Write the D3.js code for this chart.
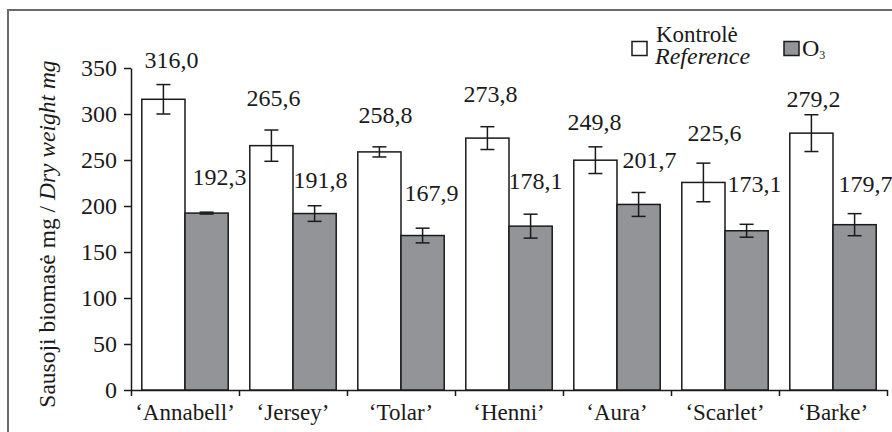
<!DOCTYPE html>
<html>
<head>
<meta charset="utf-8">
<script src="https://cdn.jsdelivr.net/npm/d3@7"></script>
<style>
  body { margin: 0; background: #fff; }
</style>
</head>
<body>
<svg id="chart" width="892" height="432"></svg>
<script>
// cultivars and dry weight (mg)
let categories = ["‘Annabell’", "‘Jersey’", "‘Tolar’", "‘Henni’", "‘Aura’", "‘Scarlet’", "‘Barke’"];
let control = [316.0, 265.6, 258.8, 273.8, 249.8, 225.6, 279.2];
let ozone = [192.3, 191.8, 167.9, 178.1, 201.7, 173.1, 179.7];
let control_err = [16, 17, 5.5, 12.4, 14.5, 21, 20];
let ozone_err = [1, 8.5, 8, 13, 13, 7, 12];
let y_ticks = [0, 50, 100, 150, 200, 250, 300, 350];

// hand placed value labels (px nudges, like the original)
let control_label_dx = [8, 2, 6, 3, -1, 11, 2];
let control_label_gap = [17, 24, 24, 25, 17, 22, 8];
let ozone_label_dx = [13, 6, 9, 5, 11, 8, 11];
let ozone_label_gap = [27, 18, 27, 25, 24, 32, 22];

let serif = "'Liberation Serif', 'Times New Roman', serif";
let ink = '#1a1a1a';
let svg = d3.select('#chart');
let left = 131, right = 887, top_y = 68, bottom = 390;

// frame
svg.append('path').attr('d', 'M8,440 L8,10 L900,10')
  .attr('fill', 'none').attr('stroke', '#6a6a6a').attr('stroke-width', 2);

let x = d3.scaleBand().domain(categories).range([left, right]);
let x_inner = d3.scaleBand().domain(['control', 'o3']).range([0, x.bandwidth()]).paddingOuter(0.25);
let y = d3.scaleLinear().domain([0, 350]).range([bottom, top_y]);

let locale = d3.formatLocale({decimal: ',', thousands: ' ', grouping: [3], currency: ['', '']});
let fmt = locale.format('.1f');

// y axis
let y_axis = svg.append('g').attr('transform', 'translate(' + left + ',0)')
  .call(d3.axisLeft(y).tickValues(y_ticks).tickSize(7).tickPadding(7).tickSizeOuter(0));
y_axis.selectAll('text').style('font-family', serif).style('font-size', '24px').attr('fill', ink);
y_axis.selectAll('line, path').attr('stroke', ink).attr('stroke-width', 1.5);

// x axis, ticks between the groups
let x_lin = d3.scaleLinear().domain([0, categories.length]).range([left, right]);
let x_axis = svg.append('g').attr('transform', 'translate(0,' + bottom + ')')
  .call(d3.axisBottom(x_lin).ticks(categories.length).tickSize(6).tickSizeOuter(0).tickFormat(''));
x_axis.selectAll('line, path').attr('stroke', ink).attr('stroke-width', 1.5);

svg.append('g').selectAll('text').data(categories).enter().append('text')
  .attr('x', d => x(d) + x.bandwidth() / 2)
  .attr('y', 420)
  .attr('text-anchor', 'middle')
  .style('font-family', serif).style('font-size', '23px').attr('fill', ink)
  .text(d => d);

// bars
let series = [
  {key: 'control', values: control, err: control_err, fill: '#ffffff', dx: control_label_dx, gap: control_label_gap},
  {key: 'o3', values: ozone, err: ozone_err, fill: '#939497', dx: ozone_label_dx, gap: ozone_label_gap}
];

series.forEach(function(s){
  let g = svg.append('g').attr('class', 'series_' + s.key);
  let w = x_inner.bandwidth();
  g.selectAll('rect').data(s.values).enter().append('rect')
    .attr('x', (d, i) => x(categories[i]) + x_inner(s.key))
    .attr('y', d => y(d))
    .attr('width', w)
    .attr('height', d => y(0) - y(d))
    .attr('fill', s.fill).attr('stroke', ink).attr('stroke-width', 1.5);

  // error bars
  let eg = g.selectAll('.err').data(s.values).enter().append('g').attr('class', 'err')
    .attr('transform', (d, i) => 'translate(' + (x(categories[i]) + x_inner(s.key) + w / 2) + ',0)');
  eg.append('line').attr('x1', 0).attr('x2', 0)
    .attr('y1', (d, i) => y(d + s.err[i])).attr('y2', (d, i) => y(d - s.err[i]));
  eg.append('line').attr('x1', -7).attr('x2', 7)
    .attr('y1', (d, i) => y(d + s.err[i])).attr('y2', (d, i) => y(d + s.err[i]));
  eg.append('line').attr('x1', -7).attr('x2', 7)
    .attr('y1', (d, i) => y(d - s.err[i])).attr('y2', (d, i) => y(d - s.err[i]));
  eg.selectAll('line').attr('stroke', ink).attr('stroke-width', 1.5);

  g.selectAll('.val').data(s.values).enter().append('text').attr('class', 'val')
    .attr('x', (d, i) => x(categories[i]) + x_inner(s.key) + w / 2 + s.dx[i])
    .attr('y', (d, i) => y(d + s.err[i]) - s.gap[i])
    .attr('text-anchor', 'middle')
    .style('font-family', serif).style('font-size', '24px').attr('fill', ink)
    .text(d => fmt(d));
});

// y title
let title = svg.append('text')
  .attr('transform', 'translate(55,234) rotate(-90)')
  .attr('text-anchor', 'middle')
  .style('font-family', serif).style('font-size', '23.5px').attr('fill', ink);
title.append('tspan').text('Sausoji biomasė mg / ');
title.append('tspan').style('font-style', 'italic').text('Dry weight mg');

// legend
let legend = svg.append('g');
legend.append('rect').attr('x', 632).attr('y', 41.5).attr('width', 15).attr('height', 14)
  .attr('fill', '#fff').attr('stroke', ink).attr('stroke-width', 1.5);
legend.append('text').attr('x', 656).attr('y', 42)
  .style('font-family', serif).style('font-size', '23px').attr('fill', ink).text('Kontrolė');
legend.append('text').attr('x', 655).attr('y', 64)
  .style('font-family', serif).style('font-size', '24px').style('font-style', 'italic').attr('fill', ink).text('Reference');
legend.append('rect').attr('x', 784).attr('y', 41.5).attr('width', 15).attr('height', 14)
  .attr('fill', '#939497').attr('stroke', ink).attr('stroke-width', 1.5);
let o3 = legend.append('text').attr('x', 802).attr('y', 56)
  .style('font-family', serif).style('font-size', '24px').attr('fill', ink);
o3.append('tspan').text('O');
o3.append('tspan').style('font-size', '12px').attr('dy', 3).text('3');
</script>
</body>
</html>
